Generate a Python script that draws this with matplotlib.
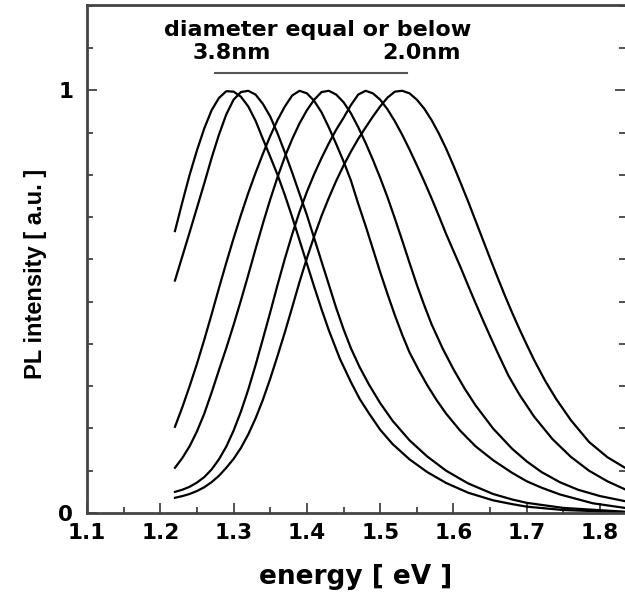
import matplotlib as mpl
mpl.use('Agg')
import matplotlib.pyplot as plt
from matplotlib.ticker import MultipleLocator, FixedLocator, FuncFormatter

mpl.rcParams['font.family'] = 'DejaVu Sans'
mpl.rcParams['font.weight'] = 'bold'
mpl.rcParams['font.size'] = 15.5

# PL spectra (energy in eV, normalised intensity)
e_38 = [1.22, 1.23, 1.24, 1.25, 1.26, 1.27, 1.28, 1.29, 1.30, 1.31, 1.32, 1.33, 1.34, 1.35, 1.36, 1.37,
        1.38, 1.39, 1.40, 1.41, 1.42, 1.43, 1.445, 1.46, 1.472, 1.485, 1.50, 1.517, 1.54, 1.564, 1.59,
        1.62, 1.654, 1.68, 1.70, 1.75, 1.834]
i_38 = [0.667, 0.735, 0.80, 0.858, 0.91, 0.953, 0.982, 0.998, 0.997, 0.985, 0.962, 0.928, 0.885, 0.843,
        0.80, 0.752, 0.70, 0.645, 0.59, 0.535, 0.482, 0.432, 0.365, 0.31, 0.27, 0.235, 0.197, 0.163, 0.127,
        0.097, 0.071, 0.048, 0.03, 0.021, 0.015, 0.007, 0.002]

e_b = [1.22, 1.23, 1.24, 1.25, 1.26, 1.27, 1.28, 1.29, 1.30, 1.31, 1.32, 1.33, 1.34, 1.35, 1.36, 1.37,
       1.38, 1.39, 1.40, 1.41, 1.42, 1.43, 1.44, 1.45, 1.46, 1.472, 1.485, 1.50, 1.517, 1.54, 1.564, 1.59,
       1.62, 1.654, 1.68, 1.70, 1.75, 1.834]
i_b = [0.55, 0.607, 0.664, 0.722, 0.78, 0.84, 0.895, 0.943, 0.978, 0.996, 0.999, 0.99, 0.968, 0.938,
       0.898, 0.853, 0.805, 0.755, 0.705, 0.65, 0.595, 0.54, 0.485, 0.435, 0.39, 0.345, 0.303, 0.26,
       0.218, 0.172, 0.134, 0.10, 0.07, 0.045, 0.032, 0.024, 0.012, 0.003]

e_c = [1.22, 1.23, 1.24, 1.25, 1.26, 1.27, 1.28, 1.29, 1.30, 1.31, 1.32, 1.33, 1.34, 1.35, 1.36, 1.37,
       1.38, 1.39, 1.40, 1.41, 1.42, 1.43, 1.44, 1.45, 1.46, 1.47, 1.48, 1.49, 1.50, 1.51, 1.52, 1.53,
       1.54, 1.552, 1.564, 1.577, 1.59, 1.609, 1.63, 1.654, 1.68, 1.70, 1.72, 1.745, 1.79, 1.834]
i_c = [0.204, 0.25, 0.30, 0.353, 0.41, 0.47, 0.532, 0.592, 0.65, 0.705, 0.757, 0.805, 0.85, 0.892,
       0.93, 0.962, 0.988, 0.999, 0.993, 0.975, 0.948, 0.912, 0.873, 0.832, 0.787, 0.732, 0.68, 0.625,
       0.57, 0.518, 0.468, 0.422, 0.38, 0.34, 0.303, 0.267, 0.235, 0.195, 0.158, 0.125, 0.095, 0.075,
       0.06, 0.044, 0.023, 0.012]

e_d = [1.22, 1.23, 1.24, 1.25, 1.26, 1.27, 1.28, 1.29, 1.30, 1.31, 1.32, 1.33, 1.34, 1.35, 1.36, 1.37,
       1.38, 1.39, 1.40, 1.41, 1.42, 1.43, 1.44, 1.45, 1.46, 1.47, 1.48, 1.49, 1.50, 1.51, 1.52, 1.53,
       1.54, 1.55, 1.56, 1.57, 1.585, 1.60, 1.615, 1.63, 1.654, 1.68, 1.70, 1.72, 1.745, 1.77, 1.80, 1.834]
i_d = [0.107, 0.13, 0.158, 0.193, 0.235, 0.285, 0.338, 0.39, 0.445, 0.503, 0.563, 0.625, 0.685, 0.742,
       0.795, 0.843, 0.885, 0.922, 0.953, 0.978, 0.996, 0.999, 0.99, 0.972, 0.946, 0.913, 0.876, 0.836,
       0.793, 0.747, 0.697, 0.645, 0.592, 0.54, 0.492, 0.447, 0.39, 0.34, 0.295, 0.255, 0.20, 0.152,
       0.122, 0.097, 0.073, 0.055, 0.04, 0.028]

e_e = [1.22, 1.23, 1.24, 1.25, 1.26, 1.27, 1.28, 1.29, 1.30, 1.31, 1.32, 1.33, 1.34, 1.35, 1.36, 1.37,
       1.38, 1.39, 1.40, 1.41, 1.42, 1.43, 1.44, 1.45, 1.46, 1.47, 1.48, 1.49, 1.50, 1.51, 1.52, 1.53,
       1.54, 1.55, 1.56, 1.57, 1.58, 1.59, 1.60, 1.61, 1.62, 1.63, 1.64, 1.65, 1.66, 1.675, 1.69, 1.71,
       1.735, 1.76, 1.785, 1.81, 1.834]
i_e = [0.05, 0.055, 0.062, 0.072, 0.085, 0.103, 0.127, 0.157, 0.195, 0.24, 0.292, 0.35, 0.412, 0.475,
       0.54, 0.602, 0.66, 0.713, 0.76, 0.802, 0.84, 0.875, 0.907, 0.935, 0.965, 0.99, 0.999, 0.993,
       0.978, 0.955, 0.927, 0.895, 0.86, 0.823, 0.785, 0.745, 0.703, 0.66, 0.62, 0.58, 0.538, 0.497,
       0.457, 0.418, 0.38, 0.325, 0.28, 0.228, 0.175, 0.133, 0.10, 0.075, 0.056]

e_20 = [1.22, 1.23, 1.24, 1.25, 1.26, 1.27, 1.28, 1.29, 1.30, 1.31, 1.32, 1.33, 1.34, 1.35, 1.36, 1.37,
        1.38, 1.39, 1.40, 1.41, 1.42, 1.43, 1.44, 1.45, 1.46, 1.47, 1.48, 1.49, 1.50, 1.51, 1.52, 1.53,
        1.54, 1.55, 1.56, 1.57, 1.58, 1.59, 1.60, 1.61, 1.62, 1.63, 1.64, 1.65, 1.66, 1.67, 1.68, 1.69,
        1.70, 1.71, 1.725, 1.74, 1.76, 1.785, 1.81, 1.834]
i_20 = [0.036, 0.04, 0.045, 0.052, 0.061, 0.073, 0.088, 0.107, 0.128, 0.154, 0.186, 0.224, 0.268, 0.318,
        0.372, 0.428, 0.487, 0.547, 0.603, 0.655, 0.703, 0.746, 0.786, 0.822, 0.855, 0.885, 0.912, 0.938,
        0.962, 0.983, 0.997, 0.999, 0.993, 0.978, 0.957, 0.93, 0.898, 0.862, 0.822, 0.78, 0.737, 0.692,
        0.647, 0.602, 0.558, 0.515, 0.474, 0.435, 0.398, 0.362, 0.313, 0.27, 0.22, 0.168, 0.132, 0.107]

spectra = [(e_38, i_38), (e_b, i_b), (e_c, i_c), (e_d, i_d), (e_e, i_e), (e_20, i_20)]

bracket_x = [1.275, 1.537]
bracket_y = 1.04

fig = plt.figure(figsize=(6.25, 5.95), dpi=100)
ax = fig.add_axes([87/625, 82/595, 538/625, 508/595])

for e, i in spectra:
    ax.plot(e, i, c='k', lw=1.6)

ax.plot(bracket_x, [bracket_y, bracket_y], c='#555555', lw=1.5)
ax.text(1.415, 1.1425, 'diameter equal or below', ha='center', va='center', fontsize=16)
ax.text(1.298, 1.089, '3.8nm', ha='center', va='center', fontsize=16)
ax.text(1.557, 1.089, '2.0nm', ha='center', va='center', fontsize=16)

ax.set_xlim(1.1, 1.834)
ax.set_ylim(0, 1.202)
ax.xaxis.set_major_locator(MultipleLocator(0.1))
ax.xaxis.set_minor_locator(MultipleLocator(0.05))
ax.yaxis.set_major_locator(FixedLocator([0, 1]))
ax.yaxis.set_minor_locator(MultipleLocator(0.1))
ax.yaxis.set_major_formatter(FuncFormatter(lambda v, p: '%g' % v))

ax.tick_params(which='both', direction='in', top=False, right=True, width=1.2, color='#333333')
ax.tick_params(which='major', length=7)
ax.tick_params(which='minor', length=4)
ax.tick_params(axis='x', pad=7)
ax.tick_params(axis='y', pad=10)
ax.spines['right'].set_visible(False)
for s in ['left', 'bottom', 'top']:
    ax.spines[s].set_color('#444444')
    ax.spines[s].set_linewidth(2)

ax.set_xlabel('energy [ eV ]', fontsize=19, fontweight='bold')
ax.xaxis.set_label_coords(0.5, -0.1)
ax.set_ylabel('PL intensity [ a.u. ]', fontsize=17, fontweight='bold', family='Liberation Sans')
ax.yaxis.set_label_coords(-0.074, 0.47)

fig.savefig('out.png', dpi=100)
